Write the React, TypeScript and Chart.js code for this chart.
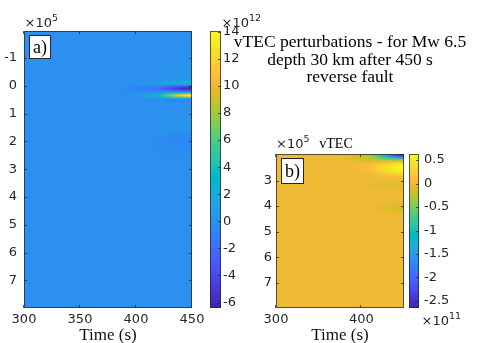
import React, { useEffect, useRef } from 'react';
import { Chart, registerables } from 'chart.js';
Chart.register(...registerables);

// ---------------- data ----------------
const titleLines = ['vTEC perturbations - for Mw 6.5', 'depth 30 km after 450 s', 'reverse fault'];
const xLabel = 'Time (s)';
const panelBTitle = 'vTEC';
const panelLabels = ['a)', 'b)'];

const timeLimits = [300, 450];
const xTicksA = [300, 350, 400, 450];
const xTicksB = [300, 400];
const distLimitsA = [-1.97, 7.99];
const distLimitsB = [1.96, 7.99];
const yTicksA = [-1, 0, 1, 2, 3, 4, 5, 6, 7];
const yTicksB = [3, 4, 5, 6, 7];
const distExponent = 5;
const climA = [-6.4, 14.05];
const climB = [-2.65, 0.63];
const cTicksA = [-6, -4, -2, 0, 2, 4, 6, 8, 10, 12, 14];
const cTicksB = [-2.5, -2, -1.5, -1, -0.5, 0, 0.5];
const cExponentA = 12;
const cExponentB = 11;
const backgroundA = 0;
const backgroundB = 0;

// panel a, near field (x1e12)
const timesA1 = [390, 400, 410, 420, 430, 440, 450];
const distA1 = [-0.3, -0.25, -0.2, -0.15, -0.1, -0.05, 0, 0.05, 0.1, 0.15, 0.2, 0.25, 0.3, 0.35, 0.4, 0.45, 0.5, 0.55, 0.6];
const valuesA1 = [
  [0, 0, 0.05, 0.1, 0.2, 0.3, 0.3],
  [0, 0, 0.05, 0.15, 0.3, 0.4, 0.4],
  [0, 0, 0.1, 0.3, 0.6, 0.9, 1.0],
  [0, 0, 0.2, 0.6, 1.2, 2.0, 2.5],
  [0, 0, 0.3, 0.8, 1.6, 2.4, 3.0],
  [0, 0, 0.1, 0.3, 0.5, 0.8, 1.0],
  [0, -0.2, -0.4, -0.8, -1.4, -2.0, -2.5],
  [-0.2, -0.5, -0.9, -1.6, -3.0, -4.5, -5.5],
  [-0.3, -0.7, -1.2, -2.0, -3.8, -5.3, -6.4],
  [-0.2, -0.5, -0.8, -1.4, -2.6, -3.8, -4.5],
  [0, -0.1, -0.2, -0.3, -0.6, -1.2, -1.5],
  [0, 0.1, 0.3, 0.8, 1.5, 2.5, 3.0],
  [0, 0.3, 0.8, 2.5, 5.5, 9.0, 11.0],
  [0, 0.4, 1.2, 3.5, 7.5, 11.5, 14.0],
  [0, 0.3, 0.8, 2.5, 5.0, 7.5, 9.0],
  [0, 0.1, 0.2, 0.6, 1.2, 1.8, 2.0],
  [0, 0, -0.1, -0.3, -0.6, -0.9, -1.0],
  [0, 0, 0, -0.1, -0.3, -0.4, -0.5],
  [0, 0, 0, 0, 0, 0, 0],
];
// panel a, far field (x1e12)
const timesA2 = [410, 420, 430, 440, 450];
const distA2 = [-1.2, -1.0, -0.8, -0.6, -0.4, -0.2, 0, 0.2, 0.4, 0.6, 0.8, 1.0, 1.2, 1.4, 1.6, 1.8, 2.0, 2.2, 2.4, 2.6];
const valuesA2 = [
  [0, 0, 0, 0, 0],
  [0, 0, 0.05, 0.1, 0.15],
  [0, 0.1, 0.2, 0.3, 0.35],
  [0, 0.15, 0.3, 0.4, 0.45],
  [0, 0.1, 0.25, 0.35, 0.4],
  [0, 0.1, 0.2, 0.3, 0.3],
  [0, 0, 0, 0, 0],
  [0, 0, 0, 0, 0],
  [0, 0, 0, 0, 0],
  [0, 0, 0, 0, 0],
  [0, 0, 0, 0, 0],
  [0, 0.05, 0.1, 0.15, 0.15],
  [0, 0.15, 0.25, 0.35, 0.4],
  [0, 0.2, 0.35, 0.45, 0.5],
  [0, 0.1, 0.15, 0.2, 0.2],
  [0, -0.1, -0.25, -0.4, -0.45],
  [0, -0.15, -0.4, -0.55, -0.6],
  [0, -0.05, -0.2, -0.3, -0.35],
  [0, 0, -0.05, -0.05, -0.05],
  [0, 0, 0, 0, 0],
];
// panel b, top (x1e11)
const timesB1 = [380, 390, 400, 410, 420, 430, 440, 450];
const distB1 = [2.0, 2.1, 2.2, 2.3, 2.4, 2.5, 2.6, 2.7, 2.8, 2.9];
const valuesB1 = [
  [-0.05, -0.1, -0.2, -0.4, -0.9, -1.6, -2.3, -2.65],
  [-0.05, -0.1, -0.15, -0.25, -0.5, -0.9, -1.3, -1.6],
  [0, -0.05, -0.1, -0.15, -0.2, -0.25, -0.3, -0.3],
  [0, 0, 0, 0, 0.1, 0.15, 0.2, 0.25],
  [0, 0, 0.05, 0.1, 0.25, 0.4, 0.5, 0.6],
  [0, 0, 0.05, 0.1, 0.3, 0.45, 0.55, 0.63],
  [0, 0, 0.05, 0.1, 0.25, 0.4, 0.5, 0.55],
  [0, 0, 0, 0.05, 0.15, 0.3, 0.35, 0.4],
  [0, 0, 0, 0, 0.05, 0.1, 0.15, 0.2],
  [0, 0, 0, 0, 0, 0, 0, 0],
];
// panel b, lower patches (x1e11)
const timesB2 = [400, 410, 420, 430, 440, 450];
const distB2 = [3.0, 3.1, 3.2, 3.3, 3.4, 3.5, 3.6, 3.7, 3.8, 3.9, 4.0, 4.1, 4.2, 4.3, 4.4];
const valuesB2 = [
  [0, 0, 0, 0, 0, 0],
  [0, 0, -0.04, -0.05, -0.06, -0.06],
  [0, -0.03, -0.06, -0.08, -0.08, -0.08],
  [0, 0, -0.03, -0.04, -0.05, -0.05],
  [0, 0, 0, 0, 0, 0],
  [0, 0, 0, 0, 0, 0],
  [0, 0, 0, 0, 0, 0],
  [0, 0, 0, 0, 0, 0],
  [0, 0, 0, 0, 0, 0],
  [0, 0, 0, 0, -0.03, -0.05],
  [0, 0, -0.03, -0.08, -0.12, -0.13],
  [0, 0, -0.03, -0.1, -0.14, -0.15],
  [0, 0, 0, -0.05, -0.08, -0.1],
  [0, 0, 0, 0, -0.03, -0.03],
  [0, 0, 0, 0, 0, 0],
];

// ---------------- styles ----------------
const PARULA = [
  [0.2422, 0.1504, 0.6603], [0.2504, 0.1650, 0.7076], [0.2578, 0.1818, 0.7511], [0.2647, 0.1978, 0.7952],
  [0.2706, 0.2147, 0.8364], [0.2751, 0.2342, 0.8710], [0.2783, 0.2559, 0.8991], [0.2803, 0.2782, 0.9221],
  [0.2813, 0.3006, 0.9414], [0.2810, 0.3228, 0.9579], [0.2795, 0.3447, 0.9717], [0.2760, 0.3667, 0.9829],
  [0.2699, 0.3892, 0.9906], [0.2602, 0.4123, 0.9952], [0.2440, 0.4358, 0.9988], [0.2206, 0.4603, 0.9973],
  [0.1963, 0.4847, 0.9892], [0.1834, 0.5074, 0.9798], [0.1786, 0.5289, 0.9682], [0.1764, 0.5499, 0.9520],
  [0.1687, 0.5703, 0.9359], [0.1540, 0.5902, 0.9218], [0.1460, 0.6091, 0.9079], [0.1380, 0.6276, 0.8973],
  [0.1248, 0.6459, 0.8883], [0.1113, 0.6635, 0.8763], [0.0952, 0.6798, 0.8598], [0.0689, 0.6948, 0.8394],
  [0.0297, 0.7082, 0.8163], [0.0036, 0.7203, 0.7917], [0.0067, 0.7312, 0.7660], [0.0433, 0.7411, 0.7394],
  [0.0964, 0.7500, 0.7120], [0.1408, 0.7584, 0.6842], [0.1717, 0.7670, 0.6554], [0.1938, 0.7758, 0.6251],
  [0.2161, 0.7843, 0.5923], [0.2470, 0.7918, 0.5567], [0.2906, 0.7973, 0.5188], [0.3406, 0.8008, 0.4789],
  [0.3909, 0.8029, 0.4354], [0.4456, 0.8024, 0.3909], [0.5044, 0.7993, 0.3480], [0.5616, 0.7942, 0.3045],
  [0.6174, 0.7876, 0.2612], [0.6720, 0.7793, 0.2227], [0.7242, 0.7698, 0.1910], [0.7738, 0.7598, 0.1646],
  [0.8203, 0.7498, 0.1535], [0.8634, 0.7406, 0.1596], [0.9035, 0.7330, 0.1774], [0.9393, 0.7288, 0.2100],
  [0.9728, 0.7298, 0.2394], [0.9956, 0.7434, 0.2371], [0.9970, 0.7659, 0.2199], [0.9952, 0.7893, 0.2028],
  [0.9892, 0.8136, 0.1885], [0.9786, 0.8386, 0.1766], [0.9676, 0.8639, 0.1643], [0.9610, 0.8890, 0.1537],
  [0.9597, 0.9135, 0.1423], [0.9628, 0.9373, 0.1265], [0.9691, 0.9606, 0.1064], [0.9769, 0.9839, 0.0805],
];
const TICK_COLOR = '#262626';
const AXIS_COLOR = 'rgba(38,38,38,0.75)';
const TICK_FONT = { family: 'DejaVu Sans', size: 13 };
const SERIF = '"Liberation Serif", serif';

function cmap(v: number, clim: number[]): number[] {
  let t = (v - clim[0]) / (clim[1] - clim[0]);
  t = Math.min(1, Math.max(0, t));
  const f = t * 63;
  const i = Math.min(62, Math.floor(f));
  const u = f - i;
  return [0, 1, 2].map((k) => Math.round(255 * (PARULA[i][k] * (1 - u) + PARULA[i + 1][k] * u)));
}
const rgb = (c: number[]) => `rgb(${c[0]},${c[1]},${c[2]})`;

function drawPatch(ctx: CanvasRenderingContext2D, xs: any, ys: any, times: number[], dists: number[], values: number[][], clim: number[]) {
  const nc = times.length, nr = dists.length;
  const off = document.createElement('canvas');
  off.width = nc; off.height = nr;
  const o = off.getContext('2d')!;
  const img = o.createImageData(nc, nr);
  for (let r = 0; r < nr; r++) {
    for (let c = 0; c < nc; c++) {
      const col = cmap(values[r][c], clim);
      const k = (r * nc + c) * 4;
      img.data[k] = col[0]; img.data[k + 1] = col[1]; img.data[k + 2] = col[2]; img.data[k + 3] = 255;
    }
  }
  o.putImageData(img, 0, 0);
  const dt = (times[nc - 1] - times[0]) / (nc - 1);
  const dd = (dists[nr - 1] - dists[0]) / (nr - 1);
  const x0 = xs.getPixelForValue(times[0] - dt / 2);
  const x1 = xs.getPixelForValue(times[nc - 1] + dt / 2);
  const y0 = ys.getPixelForValue(dists[0] - dd / 2);
  const y1 = ys.getPixelForValue(dists[nr - 1] + dd / 2);
  ctx.imageSmoothingEnabled = true;
  (ctx as any).imageSmoothingQuality = 'low';
  ctx.drawImage(off, x0, y0, x1 - x0, y1 - y0);
}

function drawExp(ctx: CanvasRenderingContext2D, x: number, y: number, exp: number) {
  ctx.save();
  ctx.fillStyle = TICK_COLOR;
  ctx.textAlign = 'left';
  ctx.textBaseline = 'alphabetic';
  ctx.font = '13px "DejaVu Sans"';
  ctx.fillText('×10', x, y);
  const w = ctx.measureText('×10').width;
  ctx.font = '9.5px "DejaVu Sans"';
  ctx.fillText(String(exp), x + w, y - 6);
  ctx.restore();
}

function drawPanelLabel(ctx: CanvasRenderingContext2D, text: string, x: number, y: number, w: number, h: number) {
  ctx.save();
  ctx.fillStyle = '#fff';
  ctx.fillRect(x, y, w, h);
  ctx.strokeStyle = TICK_COLOR;
  ctx.lineWidth = 1;
  ctx.strokeRect(x + 0.5, y + 0.5, w, h);
  ctx.fillStyle = '#000';
  ctx.font = `18px ${SERIF}`;
  ctx.textAlign = 'center';
  ctx.textBaseline = 'middle';
  ctx.fillText(text, x + w / 2 + 0.5, y + h / 2 + 1.5);
  ctx.restore();
}

function heatPlugin(patches: any[], clim: number[], bg: number, extra: (chart: any) => void) {
  return {
    id: 'heat',
    beforeDatasetsDraw(chart: any) {
      const { ctx, chartArea: a, scales } = chart;
      ctx.save();
      ctx.beginPath();
      ctx.rect(a.left, a.top, a.right - a.left, a.bottom - a.top);
      ctx.clip();
      ctx.fillStyle = rgb(cmap(bg, clim));
      ctx.fillRect(a.left, a.top, a.right - a.left, a.bottom - a.top);
      for (const p of patches) drawPatch(ctx, scales.x, scales.y, p.times, p.dists, p.values, clim);
      ctx.restore();
    },
    afterDatasetsDraw(chart: any) {
      const { ctx, chartArea: a, scales } = chart;
      ctx.save();
      ctx.strokeStyle = AXIS_COLOR;
      ctx.lineWidth = 1;
      ctx.beginPath();
      for (const t of scales.x.ticks) {
        const px = Math.round(scales.x.getPixelForValue(t.value)) - 0.5;
        ctx.moveTo(px, a.bottom); ctx.lineTo(px, a.bottom - 3);
        ctx.moveTo(px, a.top); ctx.lineTo(px, a.top + 3);
      }
      for (const t of scales.y.ticks) {
        const py = Math.round(scales.y.getPixelForValue(t.value)) + 0.5;
        ctx.moveTo(a.left, py); ctx.lineTo(a.left + 3, py);
        ctx.moveTo(a.right, py); ctx.lineTo(a.right - 3, py);
      }
      ctx.stroke();
      ctx.strokeRect(a.left + 0.5, a.top + 0.5, a.right - a.left - 1, a.bottom - a.top - 1);
      ctx.restore();
    },
    afterDraw(chart: any) {
      extra(chart);
    },
  };
}

function colorbarPlugin(clim: number[], extra: (chart: any) => void) {
  return {
    id: 'cbar',
    beforeDatasetsDraw(chart: any) {
      const { ctx, chartArea: a, scales } = chart;
      ctx.save();
      for (let y = Math.floor(a.top); y < a.bottom; y++) {
        const v = scales.y.getValueForPixel(y + 0.5);
        ctx.fillStyle = rgb(cmap(v, clim));
        ctx.fillRect(a.left, y, a.right - a.left, 1);
      }
      ctx.strokeStyle = AXIS_COLOR;
      ctx.lineWidth = 1;
      ctx.beginPath();
      for (const t of scales.y.ticks) {
        const py = Math.round(scales.y.getPixelForValue(t.value)) + 0.5;
        ctx.moveTo(a.right, py); ctx.lineTo(a.right - 3, py);
      }
      ctx.stroke();
      ctx.strokeRect(a.left + 0.5, a.top + 0.5, a.right - a.left - 1, a.bottom - a.top - 1);
      ctx.restore();
    },
    afterDraw(chart: any) { extra(chart); },
  };
}

function heatConfig(opts: any) {
  const { padLeft, top, right, ymin, ymax, xTicks, yTicks, yPad, plugin } = opts;
  return {
    type: 'scatter',
    data: { datasets: [] },
    options: {
      responsive: false,
      animation: false,
      devicePixelRatio: 1,
      events: [],
      layout: { padding: { left: padLeft, top, right: 477 - right, bottom: 0 } },
      plugins: { legend: { display: false }, tooltip: { enabled: false }, title: { display: false } },
      scales: {
        x: {
          type: 'linear', position: 'bottom', min: timeLimits[0], max: timeLimits[1],
          grid: { display: false, drawTicks: false }, border: { display: false },
          ticks: { font: TICK_FONT, color: TICK_COLOR, padding: 4, autoSkip: false, maxRotation: 0, callback: (v: number) => String(v) },
          afterBuildTicks: (s: any) => { s.ticks = xTicks.map((v: number) => ({ value: v })); },
          afterFit: (s: any) => { s.height = 35; },
          title: { display: true, text: xLabel, color: '#111', padding: 0, font: { family: 'Liberation Serif', size: 17, lineHeight: 0.9 } },
        },
        y: {
          type: 'linear', position: 'left', reverse: true, min: ymin, max: ymax,
          grid: { display: false, drawTicks: false }, border: { display: false },
          ticks: { font: TICK_FONT, color: TICK_COLOR, padding: yPad, autoSkip: false, callback: (v: number) => String(v) },
          afterBuildTicks: (s: any) => { s.ticks = yTicks.map((v: number) => ({ value: v })); },
          afterFit: (s: any) => { s.width = 24; },
        },
      },
    },
    plugins: [plugin],
  };
}

function colorbarConfig(opts: any) {
  const { left, right, top, bottom, clim, ticks, pad, plugin } = opts;
  return {
    type: 'scatter',
    data: { datasets: [] },
    options: {
      responsive: false,
      animation: false,
      devicePixelRatio: 1,
      events: [],
      layout: { padding: { left, top, right: 477 - right - 30, bottom: 343 - bottom } },
      plugins: { legend: { display: false }, tooltip: { enabled: false }, title: { display: false } },
      scales: {
        x: { type: 'linear', display: false, min: 0, max: 1 },
        y: {
          type: 'linear', position: 'right', min: clim[0], max: clim[1],
          grid: { display: false, drawTicks: false }, border: { display: false },
          ticks: { font: TICK_FONT, color: TICK_COLOR, padding: pad, autoSkip: false, callback: (v: number) => String(v) },
          afterBuildTicks: (s: any) => { s.ticks = ticks.map((v: number) => ({ value: v })); },
          afterFit: (s: any) => { s.width = 30; },
        },
      },
    },
    plugins: [plugin],
  };
}

export default function App() {
  const refA = useRef<HTMLCanvasElement>(null);
  const refCA = useRef<HTMLCanvasElement>(null);
  const refB = useRef<HTMLCanvasElement>(null);
  const refCB = useRef<HTMLCanvasElement>(null);

  useEffect(() => {
    document.body.style.margin = '0';

    const extraA = (chart: any) => {
      const { ctx, chartArea: a } = chart;
      drawPanelLabel(ctx, panelLabels[0], a.left + 5, a.top + 4, 21, 23);
      drawExp(ctx, a.left + 0.5, a.top - 4, distExponent);
      ctx.save();
      ctx.fillStyle = '#000';
      ctx.font = `17.5px ${SERIF}`;
      ctx.textAlign = 'center';
      ctx.textBaseline = 'alphabetic';
      const baselines = [46.5, 64.5, 82];
      titleLines.forEach((line, i) => ctx.fillText(line, 350, baselines[i]));
      ctx.restore();
    };
    const extraB = (chart: any) => {
      const { ctx, chartArea: a } = chart;
      drawPanelLabel(ctx, panelLabels[1], a.left + 5, a.top + 4, 22, 25);
      drawExp(ctx, a.left, a.top - 6, distExponent);
      ctx.save();
      ctx.fillStyle = '#000';
      ctx.font = `14px ${SERIF}`;
      ctx.textAlign = 'center';
      ctx.textBaseline = 'alphabetic';
      ctx.fillText(panelBTitle, 336, a.top - 6);
      ctx.restore();
    };
    const extraCA = (chart: any) => {
      const { ctx, chartArea: a } = chart;
      drawExp(ctx, a.right + 0.5, a.top - 4, cExponentA);
    };
    const extraCB = (chart: any) => {
      const { ctx, chartArea: a } = chart;
      drawExp(ctx, a.right + 2.5, a.bottom + 17, cExponentB);
    };

    const charts: Chart[] = [];
    charts.push(new Chart(refA.current!, heatConfig({
      padLeft: 0, top: 31, right: 192, ymin: distLimitsA[0], ymax: distLimitsA[1], xTicks: xTicksA, yTicks: yTicksA, yPad: 7,
      plugin: heatPlugin([
        { times: timesA2, dists: distA2, values: valuesA2 },
        { times: timesA1, dists: distA1, values: valuesA1 },
      ], climA, backgroundA, extraA),
    }) as any));
    charts.push(new Chart(refCA.current!, colorbarConfig({
      left: 210, right: 221, top: 31, bottom: 308, clim: climA, ticks: cTicksA, pad: 2,
      plugin: colorbarPlugin(climA, extraCA),
    }) as any));
    charts.push(new Chart(refB.current!, heatConfig({
      padLeft: 252, top: 154, right: 404, ymin: distLimitsB[0], ymax: distLimitsB[1], xTicks: xTicksB, yTicks: yTicksB, yPad: 4,
      plugin: heatPlugin([
        { times: timesB1, dists: distB1, values: valuesB1 },
        { times: timesB2, dists: distB2, values: valuesB2 },
      ], climB, backgroundB, extraB),
    }) as any));
    charts.push(new Chart(refCB.current!, colorbarConfig({
      left: 409, right: 419, top: 154, bottom: 308, clim: climB, ticks: cTicksB, pad: 5,
      plugin: colorbarPlugin(climB, extraCB),
    }) as any));
    return () => charts.forEach((c) => c.destroy());
  }, []);

  const cs: React.CSSProperties = { position: 'absolute', left: 0, top: 0, width: 477, height: 343 };
  return (
    <div style={{ position: 'relative', width: 477, height: 343, background: '#fff', overflow: 'hidden' }}>
      <canvas ref={refA} width={477} height={343} style={cs} />
      <canvas ref={refCA} width={477} height={343} style={cs} />
      <canvas ref={refB} width={477} height={343} style={cs} />
      <canvas ref={refCB} width={477} height={343} style={cs} />
    </div>
  );
}
